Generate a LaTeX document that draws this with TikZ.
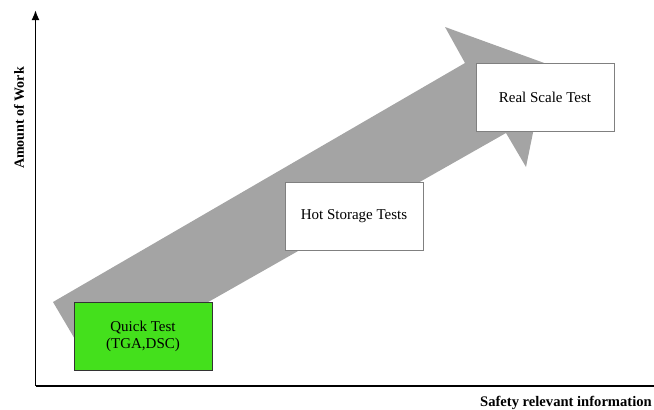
\documentclass[tikz,border=0pt]{standalone}
\usepackage{fontspec}
\setmainfont{Liberation Serif}
\usepackage{tikz}
\usetikzlibrary{arrows.meta}
\tikzset{testbox/.style={draw=gray,fill=white,line width=1pt,minimum width=138pt,minimum height=68pt,align=center,font=\fontsize{15}{17}\selectfont},
  axislabel/.style={font=\bfseries\fontsize{14}{16}\selectfont,inner sep=0pt}}
\newcommand{\testnode}[4][]{\node[testbox,#1] at (#2) (#3) {#4}}

\begin{document}
\begin{tikzpicture}[x=1pt,y=-1pt]
        \definecolor{arrowgray}{RGB}{164,164,164}
        \definecolor{quickgreen}{RGB}{68,224,28}
        \useasboundingbox (0,0) rectangle (654,410);
        % axes
        \coordinate (origin) at (35.5,386);
        \coordinate (ytop) at (35.5,10);
        \coordinate (xend) at (654,386);
        \draw[line width=1.8pt,-{Latex[length=10pt,width=8pt]}] (origin) -- (ytop);
        \draw[line width=1.8pt] (origin) -- (xend);
        \node[axislabel,rotate=90] (work) at (19,118) {Amount of Work};
        \node[axislabel,anchor=base east,font=\bfseries\fontsize{14.6}{17}\selectfont] (info) at (652,406) {Safety relevant information};
        % big arrow
        \fill[arrowgray] (53,302) -- (465,63) -- (445,27) -- (547,64)
          -- (526,167) -- (506,133) -- (92,368) -- cycle;
        % tests
        \testnode[fill=quickgreen,draw=black!80]{143,336}{quick}{Quick Test\\(TGA,DSC)};
        \testnode{354,216.5}{hot}{Hot Storage Tests};
        \testnode{545,97}{real}{Real Scale Test};
    \end{tikzpicture}
\end{document}
